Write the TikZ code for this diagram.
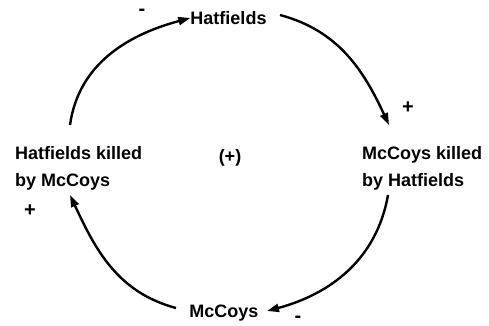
\documentclass[tikz,border=0pt]{standalone}
\usepackage{fontspec}
\setmainfont{Liberation Sans}
\usetikzlibrary{arrows.meta}
\tikzset{
  lbl/.style={font=\bfseries\fontsize{18}{27}\selectfont, inner sep=0pt, align=left},
  sgn/.style={font=\bfseries\fontsize{20}{22}\selectfont, inner sep=0pt},
  link/.style={line width=2.4pt, -{Triangle[length=12pt,width=8pt]}}
}
\begin{document}
\begin{tikzpicture}[x=1pt,y=1pt]
\useasboundingbox (0,0) rectangle (489,325);
\node[lbl] (hat) at (228.5,307) {Hatfields};
\node[lbl] (mcc) at (224,12) {McCoys};
\node[lbl, anchor=west] (hk) at (15,156.5) {Hatfields killed\\by McCoys};
\node[lbl, anchor=west] (mk) at (362,157) {McCoys killed\\by Hatfields};
\node[lbl] (loop) at (230,167) {(+)};
\node[sgn] (s1) at (142,313) {-};
\node[sgn] (s2) at (408,217) {+};
\node[sgn] (s3) at (298,6) {-};
\node[sgn] (s4) at (30,114) {+};
\coordinate (a1) at (70,200);
\coordinate (b1) at (280,310);
\coordinate (b2) at (389,200);
\coordinate (c1) at (388,130);
\coordinate (c2) at (267,14);
\coordinate (d1) at (176,17);
\coordinate (d2) at (70,130);
\draw[link] (a1) to[out=82,in=195] (hat.west);
\draw[link] (b1) to[out=-15,in=115] (b2);
\draw[link] (c1) to[out=-100,in=15] (c2);
\draw[link] (d1) to[out=165,in=-65] (d2);
\end{tikzpicture}
\end{document}
